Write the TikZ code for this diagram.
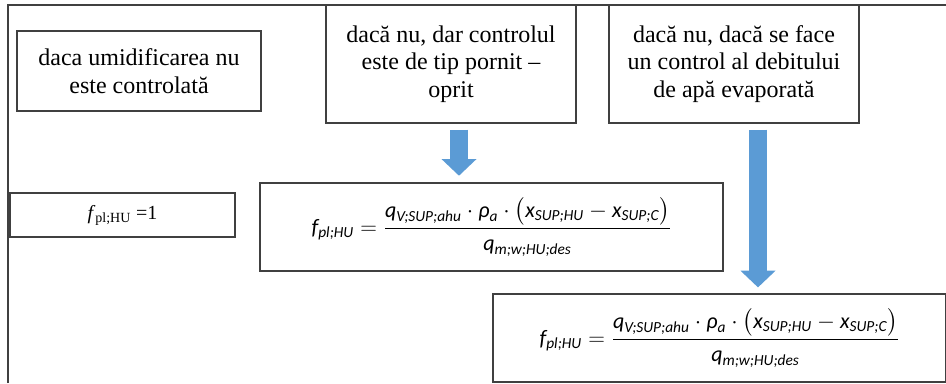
\documentclass[tikz,border=0pt]{standalone}
\usepackage{amsmath}
\usepackage{fontspec}
\setmainfont{Liberation Serif}
\newfontfamily\calfont{Carlito}
\usepackage{tikz}
\usetikzlibrary{arrows.meta}
\usepackage{xcolor}
\definecolor{arrowblue}{HTML}{5B9BD5}
\definecolor{linegray}{HTML}{404040}
\newcommand{\ci}[1]{\text{\calfont\itshape #1}}
\newcommand{\fplhu}{$\ci{f}_{\ci{pl;HU}} = \dfrac{\ci{q}_{\ci{V;SUP;ahu}}\cdot\ci{ρ}_{\ci{a}}\cdot\bigl(\ci{x}_{\ci{SUP;HU}} - \ci{x}_{\ci{SUP;C}}\bigr)}{\ci{q}_{\ci{m;w;HU;des}}}$}

\begin{document}
\begin{tikzpicture}[x=0.75pt,y=-0.75pt,
  box/.style={draw=linegray,line width=0.9pt,align=center,inner sep=0pt,
    font=\fontsize{18}{20.5}\selectfont},
  formbox/.style={draw=linegray,line width=0.9pt,inner sep=0pt,
    font=\fontsize{16.5}{18}\selectfont},
  down/.style={arrowblue,line width=13.5pt,-{Triangle[width=25.5pt,length=12.5pt]}}]
  \useasboundingbox (0,0) rectangle (946,383);
  % frame
  \draw[linegray,line width=1.1pt] (8,383) -- (8,5) -- (946,5);

  % Top: conditions
  \node[box,minimum width=183pt,minimum height=60pt] (nocontrol) at (139,71)
    {daca umidificarea nu\\este controlată};
  \node[box,minimum width=187.5pt,minimum height=88.5pt] (onoff) at (451,64)
    {dacă nu, dar controlul\\este de tip pornit –\\oprit};
  \node[box,minimum width=187.5pt,minimum height=88.5pt] (evap) at (734,64)
    {dacă nu, dacă se face\\un control al debitului\\de apă evaporată};

  % Bottom: formulas
  \node[box,minimum width=168.75pt,minimum height=33pt,font=\fontsize{15}{18}\selectfont] (fone) at (122.5,215)
    {\textit{f}\textsubscript{pl;HU} =1};
  \node[formbox,minimum width=347.25pt,minimum height=66pt] (formA) at (491.5,227) {\fplhu};
  \node[formbox,minimum width=339.75pt,minimum height=66pt] (formB) at (719.5,338) {\fplhu};

  % arrows
  \draw[down,shorten <=4.5pt,shorten >=5pt] ([xshift=6pt]onoff.south) -- ([xshift=6pt]onoff.south |- formA.north);
  \draw[down,shorten <=4.5pt,shorten >=4.5pt] ([xshift=18pt]evap.south) -- ([xshift=18pt]evap.south |- formB.north);
\end{tikzpicture}
\end{document}
